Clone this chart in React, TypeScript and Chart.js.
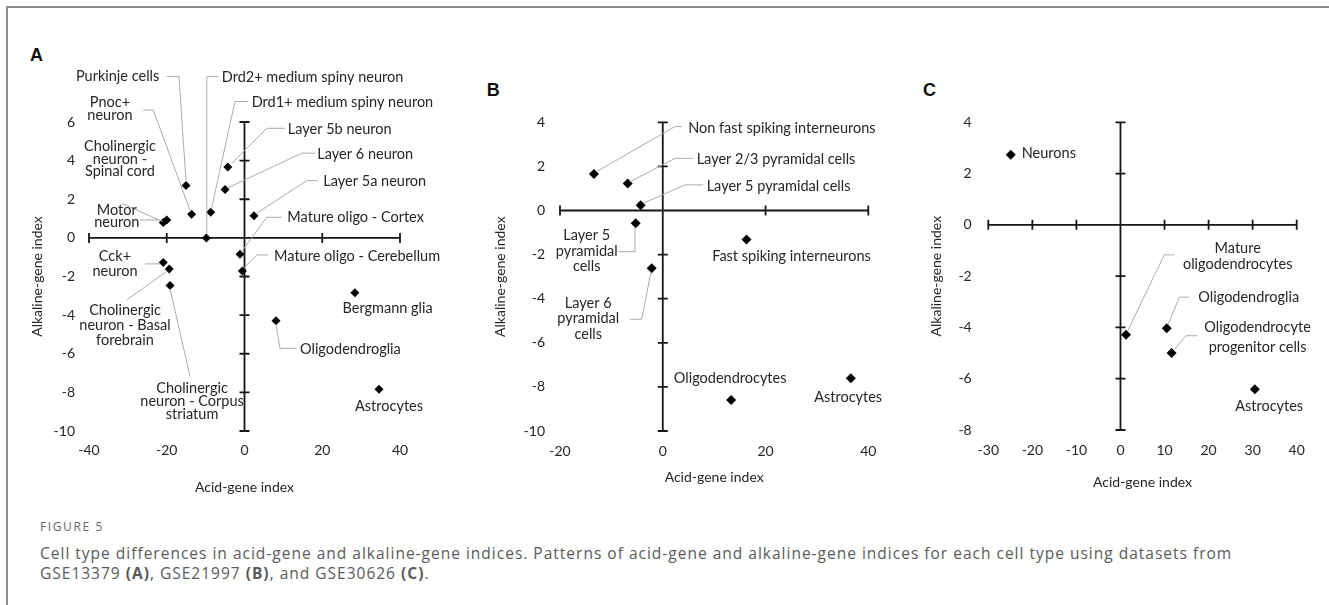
import React, { useEffect, useRef } from 'react';
import { Chart, registerables } from 'chart.js';
Chart.register(...registerables);

const FONT = 'Lato, "Open Sans", sans-serif';
const TEXT = '#262626';

// ---------- Panel A (GSE13379) ----------
const namesA = [
  'Purkinje cells', 'Pnoc+ neuron', 'Cholinergic neuron - Spinal cord', 'Motor neuron',
  'Drd2+ medium spiny neuron', 'Drd1+ medium spiny neuron', 'Layer 5b neuron', 'Layer 6 neuron',
  'Layer 5a neuron', 'Mature oligo - Cortex', 'Mature oligo - Cerebellum', 'Cck+ neuron',
  'Cholinergic neuron - Basal forebrain', 'Cholinergic neuron - Corpus striatum', 'Bergmann glia',
  'Oligodendroglia', 'Astrocytes',
];
const acidA = [-15.05, -13.6, -20.9, -20.0, -9.8, -8.7, -4.3, -5.0, 2.45, -1.15, -0.55, -20.9, -19.35, -19.15, 28.4, 8.1, 34.6];
const alkA = [2.71, 1.22, 0.79, 0.93, 0.0, 1.33, 3.67, 2.5, 1.15, -0.85, -1.71, -1.28, -1.61, -2.47, -2.84, -4.29, -7.84];
const xTicksA = { min: -40, max: 40, step: 20 };
const yTicksA = { min: -10, max: 6, step: 2 };

// ---------- Panel B (GSE21997) ----------
const namesB = [
  'Non fast spiking interneurons', 'Layer 2/3 pyramidal cells', 'Layer 5 pyramidal cells',
  'Layer 5 pyramidal cells', 'Fast spiking interneurons', 'Layer 6 pyramidal cells',
  'Oligodendrocytes', 'Astrocytes',
];
const acidB = [-13.4, -6.83, -4.3, -5.27, 16.3, -2.16, 13.3, 36.6];
const alkB = [1.66, 1.23, 0.24, -0.58, -1.31, -2.62, -8.59, -7.61];
const xTicksB = { min: -20, max: 40, step: 20 };
const yTicksB = { min: -10, max: 4, step: 2 };

// ---------- Panel C (GSE30626) ----------
const namesC = ['Neurons', 'Mature oligodendrocytes', 'Oligodendroglia', 'Oligodendrocyte progenitor cells', 'Astrocytes'];
const acidC = [-24.9, 1.25, 10.5, 11.6, 30.5];
const alkC = [2.73, -4.29, -4.03, -5.0, -6.41];
const xTicksC = { min: -30, max: 40, step: 10 };
const yTicksC = { min: -8, max: 4, step: 2 };

// ---------- Label layout (pixel offsets from each point) ----------
type Lbl = { i: number; lines: string[]; align: CanvasTextAlign; dx: number; dy: number; lh?: number; leader?: number[][] };

const labelsA: Lbl[] = [
  { i: 0, lines: ['Purkinje cells'], align: 'right', dx: -26.7, dy: -109, leader: [[-19.3, -109], [-7, -109], [0, -5]] },
  { i: 1, lines: ['Pnoc+', 'neuron'], align: 'center', dx: -81.7, dy: -112, lh: 13.4, leader: [[-48.4, -104.3], [-38.4, -104.3], [-1.7, -4.3]] },
  { i: 2, lines: ['Cholinergic', 'neuron -', 'Spinal cord'], align: 'center', dx: -43.3, dy: -76, lh: 12.5, leader: [[-41.6, -19.4], [-2.3, -1.7]] },
  { i: 3, lines: ['Motor', 'neuron'], align: 'center', dx: -50, dy: -10, lh: 12.7, leader: [[-26.7, 0], [-8.4, 0], [-4, 1.5]] },
  { i: 4, lines: ['Drd2+ medium spiny neuron'], align: 'left', dx: 15.4, dy: -160.7, leader: [[12, -161.3], [0.4, -161.3], [0.4, -5]] },
  { i: 5, lines: ['Drd1+ medium spiny neuron'], align: 'left', dx: 41, dy: -110, leader: [[37.6, -110.6], [24.3, -110.6], [1, -4.3]] },
  { i: 6, lines: ['Layer 5b neuron'], align: 'left', dx: 60, dy: -37.7, leader: [[57.3, -38.7], [39, -38.7], [4, -3.7]] },
  { i: 7, lines: ['Layer 6 neuron'], align: 'left', dx: 92.3, dy: -35.4, leader: [[90, -36.4], [76.7, -36.4], [3.3, -2]] },
  { i: 8, lines: ['Layer 5a neuron'], align: 'left', dx: 69.3, dy: -34, leader: [[64.3, -35], [52.7, -35], [2.7, -2.4]] },
  { i: 9, lines: ['Mature oligo - Cortex'], align: 'left', dx: 47.3, dy: -36.6, leader: [[41.7, -37], [26.7, -37], [2, -3.3]] },
  { i: 10, lines: ['Mature oligo - Cerebellum'], align: 'left', dx: 31.7, dy: -15, leader: [[26, -16], [14.4, -16], [1.7, -3]] },
  { i: 11, lines: ['Cck+', 'neuron'], align: 'center', dx: -48.3, dy: -6, lh: 15, leader: [[-18.3, 1.3], [-3, 1.3]] },
  { i: 12, lines: ['Cholinergic', 'neuron - Basal', 'forebrain'], align: 'center', dx: -44.3, dy: 41, lh: 15, leader: [[-42.6, 31], [-2.6, 2.5]] },
  { i: 13, lines: ['Cholinergic', 'neuron - Corpus', 'striatum'], align: 'center', dx: 22, dy: 102.6, lh: 13.3, leader: [[20, 91], [0, 3.3]] },
  { i: 14, lines: ['Bergmann glia'], align: 'center', dx: 32.7, dy: 15.3 },
  { i: 15, lines: ['Oligodendroglia'], align: 'left', dx: 24, dy: 28.3, leader: [[20.7, 27.6], [4, 27.6], [0, 3.3]] },
  { i: 16, lines: ['Astrocytes'], align: 'center', dx: 10, dy: 17.4 },
];

const labelsB: Lbl[] = [
  { i: 0, lines: ['Non fast spiking interneurons'], align: 'left', dx: 94.3, dy: -45.7, leader: [[87.7, -47.3], [81, -47.3], [2.7, -2.3]] },
  { i: 1, lines: ['Layer 2/3 pyramidal cells'], align: 'left', dx: 69, dy: -24, leader: [[65.6, -25], [47.3, -25], [2.3, -1.6]] },
  { i: 2, lines: ['Layer 5 pyramidal cells'], align: 'left', dx: 66, dy: -19.3, leader: [[62.6, -20.3], [44.3, -20.3], [2.6, -2]] },
  { i: 3, lines: ['Layer 5', 'pyramidal', 'cells'], align: 'center', dx: -49, dy: 12.4, lh: 15.5, leader: [[-17.4, 28.4], [-0.7, 28.4], [-0.7, 3.7]] },
  { i: 4, lines: ['Fast spiking interneurons'], align: 'center', dx: 45, dy: 16.7 },
  { i: 5, lines: ['Layer 6', 'pyramidal', 'cells'], align: 'center', dx: -63.4, dy: 35, lh: 15.5, leader: [[-21.7, 51], [-10, 51], [-0.7, 3.7]] },
  { i: 6, lines: ['Oligodendrocytes'], align: 'center', dx: -1, dy: -21.7 },
  { i: 7, lines: ['Astrocytes'], align: 'center', dx: -2.7, dy: 19.4 },
];

const labelsC: Lbl[] = [
  { i: 0, lines: ['Neurons'], align: 'left', dx: 11, dy: -1.7 },
  { i: 1, lines: ['Mature', 'oligodendrocytes'], align: 'center', dx: 111.7, dy: -86.7, lh: 15.7, leader: [[48.3, -80], [38.3, -80], [1.7, -4]] },
  { i: 2, lines: ['Oligodendroglia'], align: 'left', dx: 31.6, dy: -31, leader: [[22.6, -31], [12.6, -31], [1.3, -3.3]] },
  { i: 3, lines: ['Oligodendrocyte', 'progenitor cells'], align: 'center', dx: 86, dy: -25.6, lh: 19.6, leader: [[26, -17.3], [14.3, -17.3], [2.6, -3.3]] },
  { i: 4, lines: ['Astrocytes'], align: 'center', dx: 14.3, dy: 17.4 },
];

// ---------- Plugins ----------
const crossAxesPlugin = {
  id: 'crossAxes',
  beforeDatasetsDraw(chart: any) {
    const { ctx } = chart;
    const x = chart.scales.x;
    const y = chart.scales.y;
    const x0 = x.getPixelForValue(0);
    const y0 = y.getPixelForValue(0);
    ctx.save();
    ctx.strokeStyle = '#161616';
    ctx.lineWidth = 1.8;
    ctx.beginPath();
    ctx.moveTo(x.left, y0);
    ctx.lineTo(x.right, y0);
    ctx.moveTo(x0, y.top);
    ctx.lineTo(x0, y.bottom);
    x.ticks.forEach((t: any) => {
      const px = x.getPixelForValue(t.value);
      ctx.moveTo(px, y0 - 5);
      ctx.lineTo(px, y0 + 5);
    });
    y.ticks.forEach((t: any) => {
      const py = y.getPixelForValue(t.value);
      ctx.moveTo(x0 - 5, py);
      ctx.lineTo(x0 + 5, py);
    });
    ctx.stroke();
    ctx.restore();
  },
};

function makeLabelPlugin(labels: Lbl[]) {
  return {
    id: 'pointLabels',
    afterDatasetsDraw(chart: any) {
      const { ctx } = chart;
      const meta = chart.getDatasetMeta(0);
      ctx.save();
      labels.forEach((l) => {
        const el = meta.data[l.i];
        const px = el.x;
        const py = el.y;
        if (l.leader) {
          ctx.strokeStyle = '#ababab';
          ctx.lineWidth = 1;
          ctx.beginPath();
          l.leader.forEach(([dx, dy], k) => {
            if (k === 0) ctx.moveTo(px + dx, py + dy);
            else ctx.lineTo(px + dx, py + dy);
          });
          ctx.stroke();
        }
        ctx.fillStyle = TEXT;
        ctx.font = `14.5px ${FONT}`;
        ctx.textAlign = l.align;
        ctx.textBaseline = 'middle';
        l.lines.forEach((s, k) => ctx.fillText(s, px + l.dx, py + l.dy + k * (l.lh || 14)));
      });
      ctx.restore();
    },
  };
}

type Panel = {
  names: string[]; xs: number[]; ys: number[]; labels: Lbl[];
  xt: { min: number; max: number; step: number }; yt: { min: number; max: number; step: number };
  left: number; top: number; w: number; h: number;
  padTop: number; padRight: number; yW: number; xH: number;
  yTickPad: number; xTickPad: number; xTitlePad: number; yTitlePad: number; r: number;
};

function ScatterPanel({ p }: { p: Panel }) {
  const ref = useRef<HTMLCanvasElement>(null);
  useEffect(() => {
    const tickFont = { family: FONT, size: 14 };
    const chart = new Chart(ref.current as HTMLCanvasElement, {
      type: 'scatter',
      data: {
        datasets: [{
          label: 'cell types',
          data: p.xs.map((x, i) => ({ x, y: p.ys[i] })),
          pointStyle: 'rectRot',
          pointRadius: p.r,
          pointHoverRadius: p.r,
          backgroundColor: '#000',
          borderColor: '#000',
          borderWidth: 0,
        }],
      },
      options: {
        responsive: false,
        animation: false,
        events: [],
        layout: { padding: { left: 0, top: p.padTop, right: p.padRight, bottom: 0 } },
        plugins: { legend: { display: false }, tooltip: { enabled: false } },
        scales: {
          x: {
            type: 'linear', position: 'bottom', min: p.xt.min, max: p.xt.max,
            ticks: { stepSize: p.xt.step, autoSkip: false, maxRotation: 0, padding: p.xTickPad, color: TEXT, font: tickFont },
            grid: { display: false, drawTicks: false },
            border: { display: false },
            title: { display: true, text: 'Acid-gene index', color: TEXT, font: tickFont, padding: p.xTitlePad },
            afterFit: (s: any) => { s.height = p.xH; },
          },
          y: {
            type: 'linear', position: 'left', min: p.yt.min, max: p.yt.max,
            ticks: { stepSize: p.yt.step, autoSkip: false, padding: p.yTickPad, color: TEXT, font: tickFont },
            grid: { display: false, drawTicks: false },
            border: { display: false },
            title: { display: true, text: 'Alkaline-gene index', color: TEXT, font: tickFont, padding: p.yTitlePad },
            afterFit: (s: any) => { s.width = p.yW; },
          },
        },
      } as any,
      plugins: [crossAxesPlugin, makeLabelPlugin(p.labels)],
    });
    return () => chart.destroy();
  }, []);
  return (
    <canvas ref={ref} width={p.w} height={p.h}
      style={{ position: 'absolute', left: p.left, top: p.top, width: p.w, height: p.h }} />
  );
}

const panelA: Panel = {
  names: namesA, xs: acidA, ys: alkA, labels: labelsA, xt: xTicksA, yt: yTicksA,
  left: 10, top: 40, w: 470, h: 465, padTop: 82, padRight: 80, yW: 79, xH: 74,
  yTickPad: 14, xTickPad: 10.6, xTitlePad: 9.6, yTitlePad: 18.6, r: 4.5,
};
const panelB: Panel = {
  names: namesB, xs: acidB, ys: alkB, labels: labelsB, xt: xTicksB, yt: yTicksB,
  left: 480, top: 40, w: 420, h: 465, padTop: 82.3, padRight: 31.7, yW: 80, xH: 74,
  yTickPad: 15, xTickPad: 12.3, xTitlePad: 18.9, yTitlePad: 11.6, r: 5,
};
const panelC: Panel = {
  names: namesC, xs: acidC, ys: alkC, labels: labelsC, xt: xTicksC, yt: yTicksC,
  left: 905, top: 40, w: 424, h: 465, padTop: 82.3, padRight: 32.3, yW: 83.3, xH: 75,
  yTickPad: 16.6, xTickPad: 11.6, xTitlePad: 14.3, yTitlePad: 23.3, r: 5,
};

const letterStyle: React.CSSProperties = {
  position: 'absolute', fontFamily: '"Liberation Sans", Arial, sans-serif', fontWeight: 'bold',
  fontSize: 18, lineHeight: '18px', color: '#111',
};

export default function App() {
  return (
    <div style={{ position: 'absolute', left: 0, top: 0, width: 1329, height: 605, background: '#fff', overflow: 'hidden' }}>
      <div style={{ position: 'absolute', left: 6, top: 6, width: 1400, height: 700, borderTop: '2px solid #8c8c8c', borderLeft: '2px solid #8c8c8c' }} />
      <div style={{ ...letterStyle, left: 30, top: 45.7 }}>A</div>
      <div style={{ ...letterStyle, left: 486.7, top: 81 }}>B</div>
      <div style={{ ...letterStyle, left: 923, top: 81 }}>C</div>
      <ScatterPanel p={panelA} />
      <ScatterPanel p={panelB} />
      <ScatterPanel p={panelC} />
      <div style={{ position: 'absolute', left: 40, top: 519, fontFamily: '"Open Sans", sans-serif', fontSize: 12, letterSpacing: '1.6px', color: '#666', lineHeight: '16px' }}>FIGURE 5</div>
      <div style={{ position: 'absolute', left: 40, top: 543, width: 1289, whiteSpace: 'nowrap', fontFamily: '"Open Sans", sans-serif', fontSize: 15.5, letterSpacing: '1px', color: '#5a5a5a', lineHeight: '20px' }}>
        Cell type differences in acid-gene and alkaline-gene indices. Patterns of acid-gene and alkaline-gene indices for each cell type using datasets from<br />
        GSE13379 <b>(A)</b>, GSE21997 <b>(B)</b>, and GSE30626 <b>(C)</b>.
      </div>
    </div>
  );
}
